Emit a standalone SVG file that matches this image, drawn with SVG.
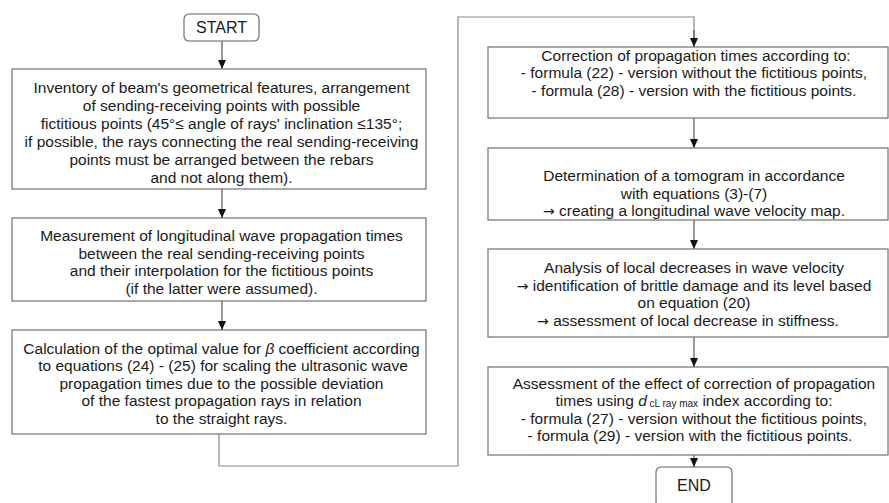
<svg xmlns="http://www.w3.org/2000/svg" width="889" height="503" viewBox="0 0 889 503">
<defs>
<marker id="ah" markerUnits="userSpaceOnUse" markerWidth="10" markerHeight="8" refX="9" refY="4" orient="auto" viewBox="0 0 10 8">
<path d="M0,0 L9,4 L0,8 Z" fill="#111"/>
</marker>
</defs>
<style>
.box{fill:#fff;stroke:#707070;stroke-width:1.2}
.term{fill:#fff;stroke:#606060;stroke-width:1.1}
.t{font-family:"Liberation Sans",Arial,sans-serif;font-size:15.5px;fill:#1a1a1a;text-anchor:middle}
.ar{font-family:"DejaVu Sans",sans-serif;font-size:14px}
.c{fill:none;stroke:#8a8a8a;stroke-width:1.2}
.a{fill:none;stroke:#555;stroke-width:1.2;marker-end:url(#ah)}
</style>
<rect width="889" height="503" fill="#fff"/>
<g id="connectors">
<path class="a" d="M222,41 V69"/>
<path class="a" d="M222,189 V218"/>
<path class="a" d="M222,301 V330"/>
<path class="c" d="M219,434 V466 H458 V17 H694 V38"/>
<path class="a" d="M694,30 V47"/>
<path class="a" d="M694,118 V148"/>
<path class="a" d="M694,220 V249"/>
<path class="a" d="M694,337 V367"/>
<path class="a" d="M694,455 V467"/>
</g>
<g id="start">
<rect class="term" x="184" y="14" width="75" height="27" rx="5"/>
<text class="t" x="221.5" y="33" style="font-size:16px">START</text>
</g>
<g id="box1">
<rect class="box" x="12" y="69" width="414" height="120"/>
<text class="t" x="221.5" y="92.5">Inventory of beam's geometrical features, arrangement</text>
<text class="t" x="221.5" y="110.5">of sending-receiving points with possible</text>
<text class="t" x="221.5" y="128.5">fictitious points (45°≤ angle of rays' inclination ≤135°;</text>
<text class="t" x="221.5" y="146.5">if possible, the rays connecting the real sending-receiving</text>
<text class="t" x="221.5" y="164.5">points must be arranged between the rebars</text>
<text class="t" x="221.5" y="182.5">and not along them).</text>
</g>
<g id="box2">
<rect class="box" x="12" y="218" width="414" height="83"/>
<text class="t" x="221.5" y="241">Measurement of longitudinal wave propagation times</text>
<text class="t" x="221.5" y="258.5">between the real sending-receiving points</text>
<text class="t" x="221.5" y="276">and their interpolation for the fictitious points</text>
<text class="t" x="221.5" y="293.5">(if the latter were assumed).</text>
</g>
<g id="box3">
<rect class="box" x="12" y="330" width="414" height="104"/>
<text class="t" x="221.5" y="353.5">Calculation of the optimal value for <tspan font-style="italic">β</tspan> coefficient according</text>
<text class="t" x="223" y="371">to equations (24) - (25) for scaling the ultrasonic wave</text>
<text class="t" x="221.5" y="388.5">propagation times due to the possible deviation</text>
<text class="t" x="221.5" y="406">of the fastest propagation rays in relation</text>
<text class="t" x="221.5" y="423.5">to the straight rays.</text>
</g>
<g id="box4">
<rect class="box" x="488" y="47" width="400" height="71"/>
<text class="t" x="696" y="60.5">Correction of propagation times according to:</text>
<text class="t" x="694" y="78">- formula (22) - version without the fictitious points,</text>
<text class="t" x="694" y="95.5">- formula (28) - version with the fictitious points.</text>
</g>
<g id="box5">
<rect class="box" x="488" y="148" width="400" height="72"/>
<text class="t" x="694" y="181">Determination of a tomogram in accordance</text>
<text class="t" x="694" y="198.5">with equations (3)-(7)</text>
<text class="t" x="694" y="216"><tspan class="ar">→</tspan> creating a longitudinal wave velocity map.</text>
</g>
<g id="box6">
<rect class="box" x="488" y="249" width="400" height="88"/>
<text class="t" x="694" y="273">Analysis of local decreases in wave velocity</text>
<text class="t" x="694" y="290.5"><tspan class="ar">→</tspan> identification of brittle damage and its level based</text>
<text class="t" x="694" y="308">on equation (20)</text>
<text class="t" x="688" y="325.5"><tspan class="ar">→</tspan> assessment of local decrease in stiffness.</text>
</g>
<g id="box7">
<rect class="box" x="488" y="367" width="400" height="88"/>
<text class="t" x="694" y="388.5">Assessment of the effect of correction of propagation</text>
<text class="t" x="694" y="406">times using <tspan font-style="italic">d</tspan><tspan font-size="10px" dy="1"> cL ray max</tspan><tspan dy="-1"> index according to:</tspan></text>
<text class="t" x="694" y="423.5">- formula (27) - version without the fictitious points,</text>
<text class="t" x="690" y="441">- formula (29) - version with the fictitious points.</text>
</g>
<g id="end">
<rect class="term" x="656" y="467" width="76" height="40" rx="5"/>
<text class="t" x="694" y="491" style="font-size:16px">END</text>
</g>
</svg>
